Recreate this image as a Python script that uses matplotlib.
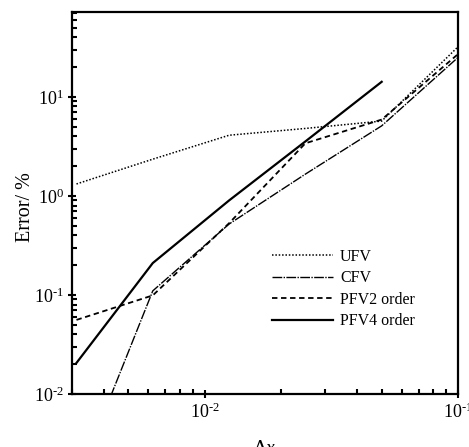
import matplotlib
matplotlib.use("Agg")
import math
import matplotlib.pyplot as plt
from matplotlib.ticker import LogLocator, FuncFormatter, NullFormatter

plt.rcParams['font.family'] = ['Liberation Serif', 'DejaVu Serif']
plt.rcParams['mathtext.fontset'] = 'custom'
plt.rcParams['mathtext.rm'] = 'Liberation Serif'
plt.rcParams['mathtext.it'] = 'Liberation Serif:italic'

# grid spacing
dx = [0.003125, 0.00625, 0.0125, 0.025, 0.05, 0.1]

# error (%) for each scheme
ufv = [1.32, 2.35, 4.1, 4.8, 5.7, 32.0]
cfv = [0.0013, 0.11, 0.52, 1.66, 5.1, 25.0]
pfv2 = [0.056, 0.099, 0.53, 3.4, 5.9, 27.0]
pfv4_dx = [0.003125, 0.00625, 0.0125, 0.025, 0.05]
pfv4 = [0.0206, 0.21, 0.9, 3.55, 14.2]


def decade_label(v, pos):
    e = int(round(math.log10(v)))
    if e < 0:
        return r'10$^{\text{-%d}}$' % (-e)
    return r'10$^{%d}$' % e


fig = plt.figure(figsize=(4.69, 4.47), dpi=100)
ax = fig.add_axes([0.1535, 0.1186, 0.823, 0.8546])

ax.plot(dx, ufv, color='black', lw=1.1, linestyle=(0, (1, 1.2)), label='UFV')
ax.plot(dx, cfv, color='black', lw=1.0, linestyle=(0, (7, 1.0, 1.0, 1.0)), label='CFV')
ax.plot(dx, pfv2, color='black', lw=1.3, linestyle=(0, (3, 2)), label='PFV2 order')
ax.plot(pfv4_dx, pfv4, color='black', lw=1.6, linestyle='-', label='PFV4 order')

ax.set_xscale('log')
ax.set_yscale('log')
ax.set_xlim(0.003, 0.1)
ax.set_ylim(0.01, 72)

ax.xaxis.set_major_locator(LogLocator(base=10, numticks=10))
ax.yaxis.set_major_locator(LogLocator(base=10, numticks=10))
ax.xaxis.set_minor_locator(LogLocator(base=10, subs=range(2, 10), numticks=20))
ax.yaxis.set_minor_locator(LogLocator(base=10, subs=range(2, 10), numticks=20))
ax.xaxis.set_major_formatter(FuncFormatter(decade_label))
ax.yaxis.set_major_formatter(FuncFormatter(decade_label))
ax.xaxis.set_minor_formatter(NullFormatter())
ax.yaxis.set_minor_formatter(NullFormatter())

ax.tick_params(which='major', direction='inout', length=6, width=1.5, labelsize=13, pad=3)
ax.tick_params(which='minor', direction='in', length=3.5, width=1.5)
for s in ax.spines.values():
    s.set_linewidth(1.6)

ax.set_ylabel('Error/ %', fontsize=14.5)
ax.yaxis.set_label_coords(-0.095, 0.49)
ax.set_xlabel(r'$\Delta x$', fontsize=14, labelpad=13)

leg = ax.legend(loc='center left', bbox_to_anchor=(0.58, 0.3535),
                bbox_transform=fig.transFigure, frameon=False, fontsize=11.5,
                handlelength=3.8, handletextpad=0.45, labelspacing=0.35,
                borderpad=0, borderaxespad=0)

fig.savefig('out.png', dpi=100)
